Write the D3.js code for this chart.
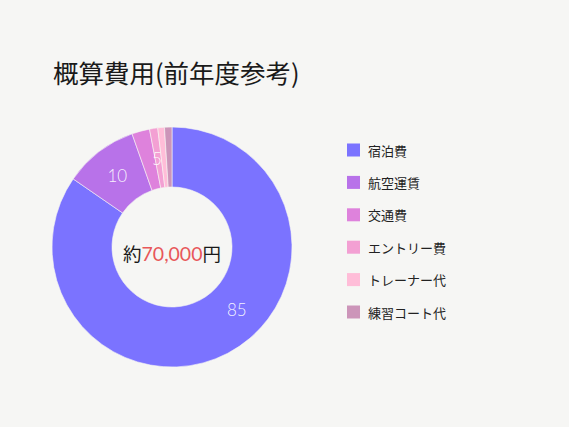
<!DOCTYPE html>
<html><head><meta charset="utf-8">
<script src="https://cdn.jsdelivr.net/npm/d3@7"></script>
<style>
html,body{margin:0;padding:0;background:#f6f6f4;}
svg{display:block;}
</style></head>
<body>
<svg id="c" width="569" height="427"></svg>
<script>
const categories = ["宿泊費","航空運賃","交通費","エントリー費","トレーナー代","練習コート代"];
const values = [84.6, 10.0, 2.4, 1.1, 0.9, 1.0];
const colors = ["#7b73ff","#b872e9","#de82dc","#f3a0d3","#ffbdd8","#cc95b9"];
const titleText = "概算費用(前年度参考)";
const centerPrefix = "約", centerAmount = "70,000", centerSuffix = "円";
const labelThreshold = 5; // slices below this grouped into one label

const svg = d3.select("#c");
const W = 569, H = 427;
svg.append("rect").attr("width",W).attr("height",H).attr("fill","#f6f6f4");

svg.append("text").attr("x",53).attr("y",83)
  .attr("font-family","'Noto Sans CJK JP'").attr("font-size",25.5)
  .attr("fill","#1a1a1a").text(titleText);

const cx = 172, cy = 247, R = 120, r = 60;
const data = categories.map((c,i)=>({c, v:values[i], col:colors[i]}));
const pie = d3.pie().value(d=>d.v).sort(null);
const arcs = pie(data);
const arc = d3.arc().innerRadius(r).outerRadius(R);
const g = svg.append("g").attr("transform",`translate(${cx},${cy})`);
g.selectAll("path").data(arcs).join("path")
  .attr("d",arc).attr("fill",d=>d.data.col)
  .attr("stroke","#f6f6f4").attr("stroke-width",0.6);

// labels (largest slice's label sits a bit before its middle, as in the reference)
const midR = (R+r)/2;
const polar = ang => [Math.sin(ang)*midR, -Math.cos(ang)*midR];
const big = arcs.filter(a=>a.data.v>=labelThreshold);
const small = arcs.filter(a=>a.data.v<labelThreshold);
const largestShift = -0.32; // radians
const maxV = d3.max(values);
const lbls = big.map(a=>{
  let ang = (a.startAngle+a.endAngle)/2 + (a.data.v===maxV?largestShift:0);
  return {pos:polar(ang), t:Math.round(a.data.v)};
});
if(small.length){
  const s0 = d3.min(small,a=>a.startAngle), s1 = d3.max(small,a=>a.endAngle);
  lbls.push({pos:polar((s0+s1)/2), t:Math.round(d3.sum(small,a=>a.data.v))});
}
g.selectAll("text.l").data(lbls).join("text").attr("class","l")
  .attr("x",d=>d.pos[0]).attr("y",d=>d.pos[1])
  .attr("text-anchor","middle").attr("dominant-baseline","central")
  .attr("font-family","Lato").attr("font-weight",300).attr("font-size",17)
  .attr("fill","#ffffff").attr("fill-opacity",0.92).text(d=>d.t);

const ct = g.append("text").attr("x",0).attr("y",14).attr("text-anchor","middle")
  .attr("font-size",18.5);
ct.append("tspan").attr("font-family","'Noto Sans CJK JP'").attr("fill","#1a1a1a").text(centerPrefix);
ct.append("tspan").attr("font-family","Lato").attr("fill","#e8575a").attr("font-size",19.5).text(centerAmount);
ct.append("tspan").attr("font-family","'Noto Sans CJK JP'").attr("fill","#1a1a1a").text(centerSuffix);

// legend
const ly = d3.scalePoint().domain(categories).range([150,312]);
const leg = svg.append("g");
const items = leg.selectAll("g").data(data).join("g")
  .attr("transform",d=>`translate(347,${ly(d.c)})`);
items.append("rect").attr("x",0).attr("y",-6.5).attr("width",13).attr("height",13).attr("fill",d=>d.col);
items.append("text").attr("x",21).attr("y",0).attr("dominant-baseline","central")
  .attr("font-family","'Noto Sans CJK JP'").attr("font-size",13).attr("fill","#222")
  .text(d=>d.c);
</script>
</body></html>
